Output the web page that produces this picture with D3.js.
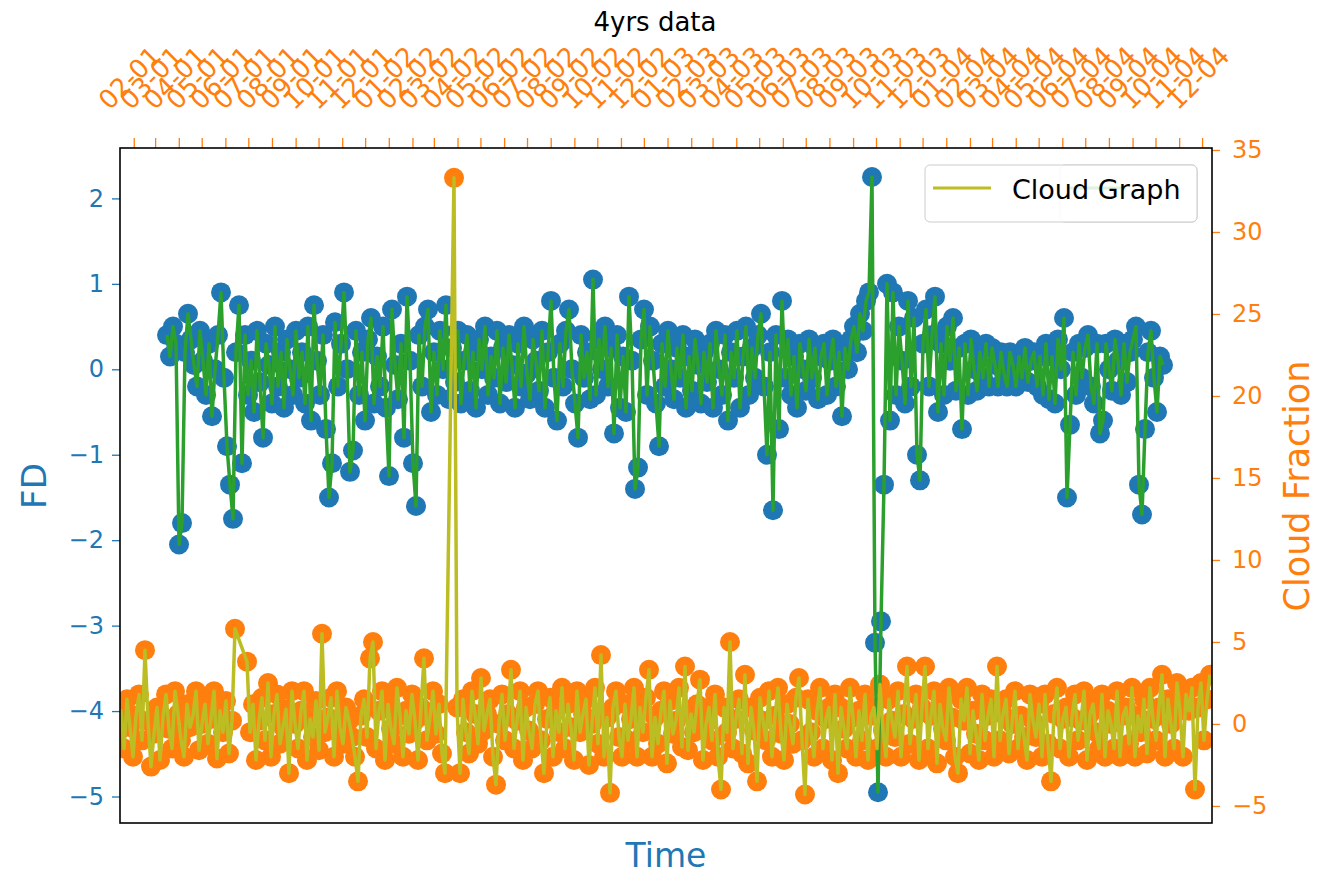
<!DOCTYPE html>
<html><head><meta charset="utf-8">
<script src="https://cdn.jsdelivr.net/npm/d3@7"></script>
<style>body{margin:0;background:#fff} svg text{font-family:"DejaVu Sans",sans-serif}</style>
</head><body><svg id="chart" width="1328" height="875"></svg>
<script>
// ---------- data ----------
const fdValues = [
 0.4, 0.15, 0.5, 0.3, -2.05, -1.8, 0.2, 0.65, 0.35, 0.05,
 -0.2, 0.45, 0.1, -0.3, 0.3, -0.55, 0.0, 0.4, 0.9, -0.1,
 -0.9, -1.35, -1.75, 0.2, 0.75, -1.1, 0.4, -0.3, 0.1, -0.5,
 0.45, -0.15, -0.8, 0.3, 0.05, -0.4, 0.5, -0.2, 0.2, -0.45,
 0.35, 0.0, -0.3, 0.45, -0.1, 0.2, -0.4, 0.5, -0.6, 0.75,
 0.1, -0.3, 0.4, -0.7, -1.5, -1.1, 0.55, -0.2, 0.3, 0.9,
 0.0, -1.2, -0.95, 0.45, -0.3, 0.2, -0.6, 0.35, 0.6, -0.4,
 0.15, -0.2, 0.5, -0.45, -1.25, 0.7, 0.05, -0.35, 0.3, -0.8,
 0.85, 0.1, -1.1, -1.6, 0.4, -0.2, 0.5, 0.7, -0.5, 0.2,
 -0.3, 0.45, 0.0, 0.75, -0.35, 0.25, -0.15, 0.45, -0.4, 0.1,
 0.4, -0.25, 0.2, -0.45, 0.35, 0.0, 0.5, -0.3, 0.15, -0.1,
 0.45, -0.4, 0.25, -0.15, 0.4, 0.05, -0.45, 0.3, -0.2, 0.5,
 -0.05, -0.35, 0.35, 0.1, -0.25, 0.45, -0.45, 0.2, 0.8, -0.1,
 -0.6, 0.3, -0.2, 0.45, 0.7, 0.0, -0.4, -0.8, 0.4, -0.1,
 0.2, -0.35, 1.05, -0.3, 0.35, 0.0, 0.5, -0.2, 0.25, -0.75,
 0.4, -0.45, 0.15, -0.5, 0.85, 0.1, -1.4, -1.15, 0.35, 0.7,
 -0.3, 0.5, 0.1, -0.4, -0.9, 0.3, -0.2, 0.45, 0.0, -0.35,
 0.25, -0.1, 0.4, -0.45, 0.15, -0.25, 0.35, 0.05, -0.4, 0.2,
 -0.15, 0.3, -0.45, 0.45, 0.0, -0.3, 0.4, -0.6, 0.2, -0.1,
 0.45, -0.45, 0.15, 0.5, -0.3, 0.25, -0.1, 0.4, 0.65, -0.2,
 -1.0, 0.2, -1.65, 0.4, -0.7, 0.8, -0.1, 0.35, -0.3, 0.15,
 -0.45, 0.3, 0.0, -0.25, 0.35, -0.1, 0.25, -0.35, 0.15, 0.3,
 -0.3, 0.1, 0.35, -0.2, 0.2, -0.55, 0.25, 0.0, 0.35, 0.5,
 0.2, 0.65, 0.45, 0.8, 0.9, 2.25, -3.2, -4.95, -2.95, -1.35,
 1.0, -0.6, 0.9, -0.3, 0.5, 0.1, -0.4, 0.8, -0.2, 0.6,
 -1.0, -1.3, 0.3, 0.7, -0.2, 0.4, 0.85, -0.5, 0.3, -0.3,
 0.5, 0.1, 0.6, -0.25, 0.25, -0.7, 0.3, -0.3, 0.35, 0.0,
 -0.25, 0.2, -0.1, 0.3, -0.2, 0.25, 0.05, -0.2, 0.2, -0.05,
 -0.2, 0.2, 0.05, -0.2, 0.15, -0.1, 0.25, -0.15, 0.1, 0.2,
 -0.2, 0.15, -0.3, 0.3, -0.35, 0.15, -0.4, 0.35, 0.0, 0.6,
 -1.5, -0.65, 0.2, -0.3, 0.3, -0.1, 0.25, 0.4, -0.2, -0.4,
 0.3, -0.75, -0.6, 0.3, 0.0, -0.25, 0.35, 0.1, -0.3, 0.3,
 -0.15, 0.2, 0.35, 0.5, -1.35, -1.7, -0.7, 0.2, 0.45, -0.1,
 -0.5, 0.15, 0.05
];
const cloudValues = [
 -0.5, 0.8, -1.5, 1.5, -0.2, -2.0, 0.5, 1.8, -1.0, 4.5,
 0.2, -2.6, -0.6, 1.0, -2.2, 0.4, 1.8, -0.3, -1.5, 2.0,
 0.6, -1.0, -2.0, 1.2, -0.2, 0.5, 2.0, -1.6, 0.0, 1.2,
 -1.2, 0.3, 2.0, -2.1, 0.8, -0.5, 1.4, -1.8, 0.2, 5.8,
 null, null, null, 3.8, -0.5, 1.2, -2.2, 0.2, 1.6, -1.0,
 2.5, -2.0, 0.6, 1.8, -1.2, -0.2, 0.9, -3.0, 2.0, 0.0,
 -1.5, 0.8, 2.0, -2.2, 0.3, -0.8, 1.4, -1.6, 5.5, -0.5,
 0.4, 1.6, -2.0, 2.0, -0.2, -1.2, 1.0, 0.2, -0.8, -2.0,
 -3.5, 0.5, 1.5, -0.8, 4.0, 5.0, -1.5, 0.8, 2.0, -2.2,
 1.2, -0.3, -1.2, 2.2, 0.5, -2.0, 0.8, -0.6, 1.8, 0.2,
 -2.2, 1.0, 4.0, -1.0, 0.4, 2.0, -0.6, 1.2, -1.8, -3.0,
 null, null, 33.3, 1.0, -3.0, 1.5, -0.5, -1.8, 2.0, 0.6,
 -1.2, 2.8, -0.4, 0.6, 1.5, -2.0, -3.7, 0.0, 1.8, -1.0,
 0.6, 3.3, -1.5, 0.2, 2.0, -2.2, 1.0, -0.4, -1.5, 1.2,
 2.0, -1.0, -3.0, 0.3, 1.6, -2.0, 0.8, -0.5, 2.2, -1.5,
 1.2, -0.2, -2.2, 2.0, -0.5, 0.6, 1.5, -2.5, 0.0, 2.2,
 -1.2, 4.2, -2.0, 0.4, -4.2, 1.0, 2.0, -0.8, -2.0, 1.2,
 -1.0, 0.3, 2.2, -2.0, 1.0, -0.5, 1.6, 3.3, -2.0, 0.4,
 -1.2, 0.8, 2.0, -2.4, 1.4, -0.6, 0.2, 2.2, -1.4, 3.5,
 -1.6, 0.6, -0.5, 1.2, 2.7, -2.2, 0.0, 1.0, -1.0, 1.8,
 -2.0, -4.0, 1.0, -0.5, 5.0, -1.5, 0.3, 1.5, -1.8, 3.0,
 -2.4, 1.0, -0.4, -3.5, 1.6, 0.2, -1.0, 2.0, -2.0, 0.5,
 2.2, -0.6, -2.2, 1.2, 0.0, -1.2, 1.6, 2.8, -1.0, -4.3,
 1.5, -0.5, -2.0, 0.8, 2.2, -1.5, 0.3, 1.0, -2.2, 1.8,
 -3.0, 1.0, -0.3, -1.5, 2.2, 0.4, -2.0, 0.8, -1.0, 1.8,
 -2.2, 0.5, 1.0, -1.5, 2.4, -0.4, -2.0, 1.5, 0.2, -0.8,
 2.0, -2.0, 0.6, 3.5, -1.2, 0.3, 1.8, -2.2, 1.0, 3.5,
 -1.5, 0.5, 2.0, -2.4, 1.2, -0.3, -1.0, 2.2, 0.4, -2.0,
 -3.0, 1.5, 0.2, 2.2, -1.8, 0.8, -0.6, -2.2, 1.8, -1.0,
 0.5, 1.5, -2.0, 3.5, -1.0, 0.6, 1.5, -1.8, 0.0, 2.0,
 -1.5, 0.5, -0.8, -2.2, 1.8, 0.2, -0.8, 1.2, -2.0, 1.8,
 -1.2, -3.5, 0.6, 2.2, -1.5, 0.3, 1.0, -2.0, 0.4, 1.8,
 -1.0, 0.2, 2.0, -2.2, 0.6, 1.2, -0.5, -1.5, 1.8, -2.0,
 0.8, 0.0, -1.5, 2.0, -2.0, 0.5, 1.0, -1.2, 2.2, -2.0,
 0.5, -0.5, 1.5, -1.8, 2.2, 0.3, -1.0, 1.0, 3.0, -2.0,
 1.5, 0.0, -1.5, 2.5, 0.8, -2.0, 1.8, 0.8, 2.2, -4.0,
 1.0, 2.5, -1.0, 1.5, 3.0
];
const monthLabels = [
 "02-01","03-01","04-01","05-01","06-01","07-01","08-01","09-01","10-01","11-01","12-01",
 "01-02","02-02","03-02","04-02","05-02","06-02","07-02","08-02","09-02","10-02","11-02","12-02",
 "01-03","02-03","03-03","04-03","05-03","06-03","07-03","08-03","09-03","10-03","11-03","12-03",
 "01-04","02-04","03-04","04-04","05-04","06-04","07-04","08-04","09-04","10-04","11-04","12-04"
];
const fdTicks = [-5, -4, -3, -2, -1, 0, 1, 2];
const cloudTicks = [-5, 0, 5, 10, 15, 20, 25, 30, 35];
const titleText = "4yrs data";
const legendLabel = "Cloud Graph";

// ---------- layout ----------
const C = {blue:"#1f77b4", orange:"#ff7f0e", green:"#2ca02c", olive:"#bcbd22"};
const L = 120, R = 1212, T = 148, B = 823;
const svg = d3.select("#chart");

const xTime = d3.scaleTime()
  .domain([new Date(2001,0,14), new Date(2004,11,14)]).range([L, R]);
const xFD = d3.scaleLinear().domain([0, fdValues.length-1]).range([167, 1163]);
const xCloud = d3.scaleLinear().domain([0, cloudValues.length-1]).range([118, 1210]);
const yFD = d3.scaleLinear().domain([-5.31, 2.59]).range([B, T]);
const yCloud = d3.scaleLinear().domain([-6.04, 35.12]).range([B, T]);

svg.append("defs").append("clipPath").attr("id","clip")
  .append("rect").attr("x",L).attr("y",T).attr("width",R-L).attr("height",B-T);

const plot = svg.append("g").attr("clip-path","url(#clip)");
const fdData = fdValues.map((v,i)=>({i,v}));
const clData = cloudValues.map((v,i)=>({i,v})).filter(d=>d.v!==null);

plot.append("g").selectAll("circle").data(fdData).join("circle")
  .attr("cx",d=>xFD(d.i)).attr("cy",d=>yFD(d.v)).attr("r",10).attr("fill",C.blue);
plot.append("g").selectAll("circle").data(clData).join("circle")
  .attr("cx",d=>xCloud(d.i)).attr("cy",d=>yCloud(d.v)).attr("r",10).attr("fill",C.orange);
plot.append("path").datum(fdData)
  .attr("d", d3.line().x(d=>xFD(d.i)).y(d=>yFD(d.v)))
  .attr("fill","none").attr("stroke",C.green).attr("stroke-width",3.5).attr("stroke-linejoin","round");
plot.append("path").datum(clData)
  .attr("d", d3.line().x(d=>xCloud(d.i)).y(d=>yCloud(d.v)))
  .attr("fill","none").attr("stroke",C.olive).attr("stroke-width",3.5).attr("stroke-linejoin","round");

// ---------- axes ----------
const fmt = d3.format("d");
const gl = svg.append("g").attr("transform",`translate(${L},0)`)
  .call(d3.axisLeft(yFD).tickValues(fdTicks).tickFormat(fmt).tickSize(8).tickPadding(8));
gl.select(".domain").remove();
gl.selectAll(".tick line").attr("stroke",C.blue).attr("stroke-width",1.3);
gl.selectAll(".tick text").attr("fill",C.blue).attr("font-size",24).attr("font-family","DejaVu Sans");

const gr = svg.append("g").attr("transform",`translate(${R},0)`)
  .call(d3.axisRight(yCloud).tickValues(cloudTicks).tickFormat(fmt).tickSize(8).tickPadding(12));
gr.select(".domain").remove();
gr.selectAll(".tick line").attr("stroke",C.orange).attr("stroke-width",1.3);
gr.selectAll(".tick text").attr("fill",C.orange).attr("font-size",24).attr("font-family","DejaVu Sans");

const parseLab = s => new Date(2000+ +s.slice(3), +s.slice(0,2)-1, 1);
const gt = svg.append("g").attr("transform",`translate(0,${T})`)
  .call(d3.axisTop(xTime).tickValues(monthLabels.map(parseLab)).tickFormat("").tickSize(10));
gt.select(".domain").remove();
gt.selectAll(".tick line").attr("stroke",C.orange).attr("stroke-width",1.3);
svg.append("g").selectAll("text").data(monthLabels).join("text")
  .attr("transform",d=>`translate(${xTime(parseLab(d))-4},78) rotate(-45)`)
  .attr("text-anchor","middle").attr("dominant-baseline","central")
  .attr("fill",C.orange).attr("font-size",26).text(d=>d);

// frame
svg.append("rect").attr("x",L).attr("y",T).attr("width",R-L).attr("height",B-T)
  .attr("fill","none").attr("stroke","#000").attr("stroke-width",1.6);

// labels
svg.append("text").attr("x",655).attr("y",31).attr("text-anchor","middle")
  .attr("font-size",26).attr("fill","#000").text(titleText);
svg.append("text").attr("x",666).attr("y",867).attr("text-anchor","middle")
  .attr("font-size",33).attr("fill",C.blue).text("Time");
svg.append("text").attr("transform","translate(46,486) rotate(-90)").attr("text-anchor","middle")
  .attr("font-size",34).attr("fill",C.blue).text("FD");
svg.append("text").attr("transform","translate(1309,486) rotate(-90)").attr("text-anchor","middle")
  .attr("font-size",35).attr("fill",C.orange).text("Cloud Fraction");

// legend (faint underlying legend of the first axes + front legend)
const lg = svg.append("g");
lg.append("rect").attr("x",1060).attr("y",165).attr("width",137).attr("height",57).attr("rx",5)
  .attr("fill","#fff").attr("stroke","#ccc");
lg.append("line").attr("x1",1068).attr("x2",1126).attr("y1",188).attr("y2",188).attr("stroke",C.green).attr("stroke-width",3);
lg.append("rect").attr("x",925).attr("y",165).attr("width",272).attr("height",57).attr("rx",5)
  .attr("fill","#fff").attr("fill-opacity",0.85).attr("stroke","#ccc");
lg.append("line").attr("x1",933).attr("x2",991).attr("y1",188).attr("y2",188).attr("stroke",C.olive).attr("stroke-width",3);
lg.append("text").attr("x",1012).attr("y",199).attr("font-size",27).attr("fill","#000").text(legendLabel);
</script></body></html>
